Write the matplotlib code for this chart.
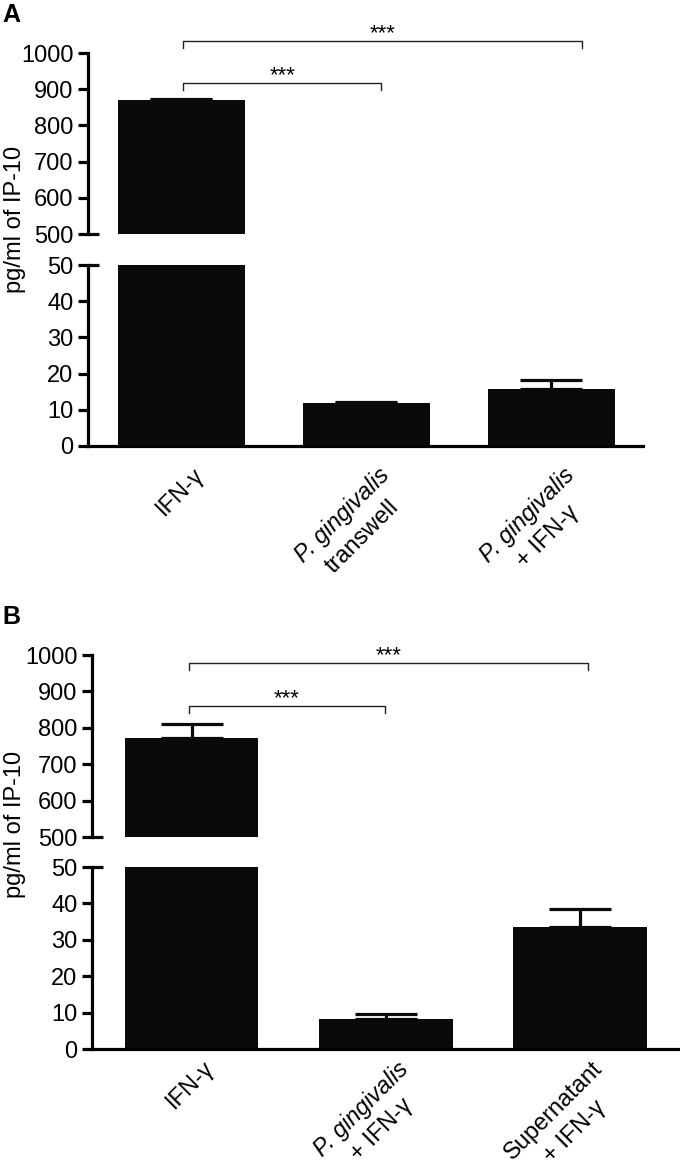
import matplotlib
matplotlib.use("Agg")
import matplotlib.pyplot as plt
import numpy as np
from matplotlib.font_manager import FontProperties

plt.rcParams["font.family"] = ["Liberation Sans", "DejaVu Sans"]

# data (pg/ml of IP-10, mean + upper SEM)
labels_a = [[("IFN-\u03b3", "normal")],
            [("P. gingivalis", "italic"), ("transwell", "normal")],
            [("P. gingivalis", "italic"), ("+ IFN-\u03b3", "normal")]]
values_a = [870, 11.8, 15.8]
errors_a = [2, 0.4, 2.3]

labels_b = [[("IFN-\u03b3", "normal")],
            [("P. gingivalis", "italic"), ("+ IFN-\u03b3", "normal")],
            [("Supernatant", "normal"), ("+ IFN-\u03b3", "normal")]]
values_b = [772, 8.2, 33.5]
errors_b = [38, 1.4, 5.0]

# significance brackets: (x start, x end, y level, text)
brackets_a = [(0.01, 1.08, 917, "***"), (0.01, 2.165, 1033, "***")]
brackets_b = [(-0.015, 0.995, 860, "***"), (-0.015, 2.04, 978, "***")]

top_ticks = [500, 600, 700, 800, 900, 1000]
bot_ticks = [0, 10, 20, 30, 40, 50]

W, H = 680, 1166
fig = plt.figure(figsize=(W / 100, H / 100), dpi=100)
renderer = fig.canvas.get_renderer()
FS = 17
LW = 2.3
BAR = "#0a0a0a"
U = np.array([np.cos(np.pi / 4), np.sin(np.pi / 4)])   # along rotated text
N = np.array([np.sin(np.pi / 4), -np.cos(np.pi / 4)])  # next line direction


def px_axes(x0, x1, y0, y1):
    return fig.add_axes([x0 / W, 1 - y1 / H, (x1 - x0) / W, (y1 - y0) / H])


def text_width_pt(s, style):
    prop = FontProperties(family="Liberation Sans", size=FS, style=style)
    w, _, _ = renderer.get_text_width_height_descent(s, prop, ismath=False)
    return w * 72 / fig.dpi


def draw_label(ax, i, lines, base):
    w0 = text_width_pt(*lines[0])
    for k, (s, style) in enumerate(lines):
        w = text_width_pt(s, style)
        off = np.array(base) - (w0 - w) / 2 * U + k * 1.25 * FS * N
        ax.annotate(s, xy=(i, 0), xycoords=("data", "axes fraction"),
                    xytext=tuple(off), textcoords="offset points",
                    rotation=45, rotation_mode="anchor", ha="right", va="top",
                    fontsize=FS, fontstyle=style, annotation_clip=False)


def draw_panel(x0, x1, ytop, ymid1, ymid2, ybot, values, errors, labels,
               brackets, xlim, letter, ylab_y, lab_base):
    ax_t = px_axes(x0, x1, ytop, ymid1)
    ax_b = px_axes(x0, x1, ymid2, ybot)
    x = np.arange(len(values))
    for ax in (ax_t, ax_b):
        ax.bar(x, values, width=0.686, color=BAR, zorder=1)
        ax.errorbar(x, values, yerr=[np.zeros(len(values)), errors], fmt="none",
                    ecolor=BAR, elinewidth=LW, capsize=22, capthick=LW, zorder=2)
        ax.set_xlim(*xlim)
        for s in ("top", "right"):
            ax.spines[s].set_visible(False)
        ax.spines["left"].set_linewidth(LW)
        ax.spines["bottom"].set_linewidth(LW)
        ax.tick_params(axis="y", length=7, width=LW, pad=3.5, labelsize=FS)
        ax.tick_params(axis="x", length=0)
        ax.set_xticks([])
        ax.patch.set_visible(False)

    ax_t.spines["bottom"].set_visible(False)
    ax_t.set_ylim(500, 1000)
    ax_t.set_yticks(top_ticks)
    ax_b.set_ylim(0, 50)
    ax_b.set_yticks(bot_ticks)

    # break marks on the axis
    frac = 11 / (x1 - x0)
    ax_t.plot([0, frac], [500, 500], color=BAR, lw=LW, solid_capstyle="butt",
              transform=ax_t.get_yaxis_transform(), clip_on=False)
    ax_b.plot([0, frac], [50, 50], color=BAR, lw=LW, solid_capstyle="butt",
              transform=ax_b.get_yaxis_transform(), clip_on=False)

    for i, lines in enumerate(labels):
        draw_label(ax_b, i, lines, lab_base)

    # significance brackets
    drop = 20
    for xs, xe, yl, txt in brackets:
        ax_t.plot([xs, xs, xe, xe], [yl - drop, yl, yl, yl - drop], color="#222222",
                  lw=1.0, clip_on=False)
        ax_t.annotate(txt, xy=((xs + xe) / 2, yl), xytext=(0, 1),
                      textcoords="offset points", ha="center", va="baseline",
                      fontsize=16, annotation_clip=False)

    fig.text(2 / W, 1 - (ytop - 50) / H, letter, fontsize=18, fontweight="bold",
             ha="left", va="top")
    fig.text(15 / W, 1 - ylab_y / H, "pg/ml of IP-10", rotation=90,
             fontsize=FS, ha="center", va="center")


draw_panel(88, 643, 53, 234, 265, 446, values_a, errors_a, labels_a,
           brackets_a, (-0.505, 2.495), "A", 219, (8, -13))
draw_panel(92, 678, 655, 837, 867, 1049, values_b, errors_b, labels_b,
           brackets_b, (-0.515, 2.505), "B", 824, (8, -6))

fig.savefig("out.png", dpi=100)
